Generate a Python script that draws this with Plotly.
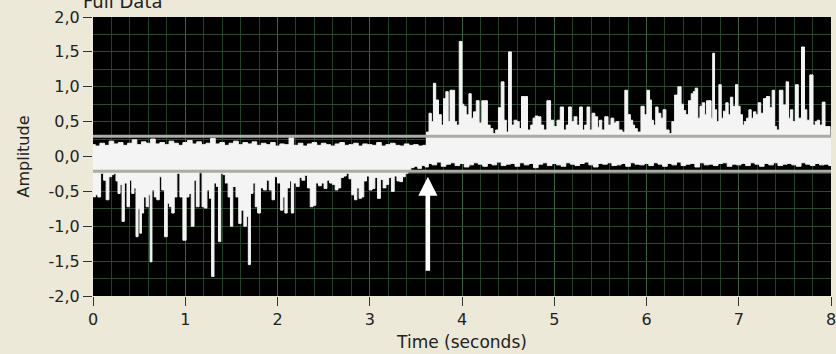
import plotly.graph_objects as go

# ---------------- data ----------------
# Segment 1 (0 .. 3.6 s): upper edge of the noise band, sampled every 0.05 s
TOP1_START, TOP1_STEP = 0.0, 0.05
top1_v = [0.17, 0.15, 0.19, 0.16, 0.22, 0.18, 0.20, 0.16, 0.19, 0.24, 0.17, 0.21, 0.19, 0.25, 0.18,
          0.20, 0.17, 0.22, 0.19, 0.16, 0.20, 0.23, 0.18, 0.21, 0.17, 0.19, 0.26, 0.18, 0.20, 0.16,
          0.19, 0.22, 0.17, 0.20, 0.18, 0.21, 0.16, 0.19, 0.17, 0.20, 0.15, 0.18, 0.17, 0.27, 0.16,
          0.19, 0.15, 0.18, 0.20, 0.16, 0.19, 0.17, 0.15, 0.18, 0.20, 0.16, 0.17, 0.19, 0.15, 0.18,
          0.17, 0.16, 0.20, 0.15, 0.17, 0.19, 0.16, 0.15, 0.18, 0.16, 0.17, 0.15, 0.16]

# Segment 1: lower envelope (negative excursions)
bot1_t = [0.00, 0.011, 0.04, 0.065, 0.10, 0.13, 0.155, 0.19, 0.215, 0.238, 0.26, 0.282, 0.305, 0.325,
          0.354, 0.383, 0.408, 0.433, 0.455, 0.477, 0.50, 0.516, 0.534, 0.563, 0.589, 0.61, 0.628,
          0.65, 0.679, 0.704, 0.733, 0.758, 0.794, 0.816, 0.841, 0.866, 0.895, 0.924, 0.96, 0.989,
          1.03, 1.05, 1.08, 1.11, 1.13, 1.17, 1.195, 1.22, 1.25, 1.275, 1.297, 1.326, 1.35, 1.37,
          1.40, 1.42, 1.45, 1.48, 1.50, 1.53, 1.57, 1.59, 1.62, 1.65, 1.675, 1.693, 1.72, 1.748,
          1.77, 1.80, 1.83, 1.867, 1.892, 1.928, 1.954, 1.98, 2.02, 2.047, 2.07,
          2.09, 2.12, 2.14, 2.16, 2.19, 2.22, 2.25, 2.28, 2.31, 2.34, 2.37, 2.40, 2.43, 2.46, 2.49,
          2.52, 2.55, 2.58, 2.61, 2.64, 2.67, 2.70, 2.73, 2.76, 2.79, 2.82, 2.85, 2.87, 2.90, 2.92,
          2.95, 2.98, 3.01, 3.04, 3.07, 3.10, 3.13, 3.16, 3.19, 3.22, 3.25, 3.28, 3.31, 3.34, 3.37,
          3.40, 3.43, 3.46, 3.50, 3.54, 3.58, 3.62]
bot1_v = [-0.45, -0.58, -0.55, -0.58, -0.24, -0.34, -0.62, -0.29, -0.26, -0.24, -0.35, -0.53, -0.40, -0.93,
          -0.38, -0.72, -0.34, -0.53, -0.45, -1.15, -0.75, -1.10, -0.81, -0.58, -0.72, -0.55, -1.51,
          -0.48, -0.58, -0.62, -0.29, -0.48, -1.15, -0.67, -0.72, -0.81, -0.58, -0.24, -0.58, -1.20,
          -0.58, -0.53, -1.00, -0.34, -0.72, -0.22, -0.72, -0.74, -0.48, -0.60, -1.72, -0.38, -0.43, -1.22,
          -0.24, -0.26, -0.38, -0.58, -1.00, -0.43, -0.58, -0.96, -0.77, -1.00, -0.86, -1.55, -0.53, -0.38,
          -0.72, -0.81, -0.45, -0.48, -0.34, -0.48, -0.62, -0.29, -0.38, -0.77, -0.58,
          -0.81, -0.45, -0.35, -0.81, -0.38, -0.43, -0.30, -0.34, -0.27, -0.45, -0.72, -0.70, -0.38, -0.42, -0.38,
          -0.46, -0.34, -0.38, -0.40, -0.48, -0.45, -0.30, -0.28, -0.24, -0.32, -0.55, -0.62, -0.45, -0.60, -0.58,
          -0.35, -0.28, -0.48, -0.46, -0.30, -0.60, -0.33, -0.45, -0.40, -0.30, -0.50, -0.28, -0.35, -0.36, -0.29,
          -0.24, -0.20, -0.16, -0.14, -0.17, -0.13, -0.15]

# Segment 2 (after the arrow): upper envelope (positive bursts)
top2_t = [3.63, 3.655, 3.68, 3.70, 3.73, 3.76, 3.79, 3.81, 3.84, 3.86, 3.88, 3.91, 3.93, 3.95, 3.99,
          4.01, 4.03, 4.06, 4.09, 4.11, 4.14, 4.17, 4.20, 4.23, 4.26, 4.29, 4.32, 4.35, 4.38, 4.41,
          4.44, 4.47, 4.49, 4.52, 4.55, 4.58, 4.61, 4.63, 4.66, 4.69, 4.73, 4.76, 4.78, 4.81, 4.84,
          4.87, 4.90, 4.94, 4.98, 5.01, 5.05, 5.08, 5.12, 5.14, 5.17, 5.20, 5.23, 5.26, 5.29, 5.32,
          5.34, 5.37, 5.40, 5.42, 5.46, 5.48, 5.50, 5.53, 5.565, 5.60, 5.63, 5.66, 5.68, 5.72, 5.75,
          5.78, 5.81, 5.84, 5.86, 5.88, 5.92, 5.96, 5.99, 6.02, 6.046, 6.06, 6.09, 6.11, 6.14, 6.17,
          6.19, 6.23, 6.26, 6.29, 6.32, 6.36, 6.39, 6.41, 6.44, 6.47, 6.50, 6.515, 6.54, 6.57, 6.59,
          6.62, 6.64, 6.66, 6.69, 6.71, 6.725, 6.75, 6.77, 6.80, 6.82, 6.85, 6.87, 6.90, 6.92, 6.95,
          6.98, 7.00, 7.03, 7.05, 7.07, 7.10, 7.12, 7.15, 7.17, 7.20, 7.22, 7.256, 7.28, 7.32, 7.35,
          7.374, 7.40, 7.42, 7.46, 7.497, 7.53, 7.55, 7.57, 7.60, 7.63, 7.66, 7.70, 7.725, 7.75, 7.79,
          7.82, 7.84, 7.86, 7.89, 7.92, 7.95, 7.98, 8.00]
top2_v = [0.35, 0.62, 0.50, 1.05, 0.81, 0.60, 0.45, 0.83, 0.93, 0.50, 0.95, 0.95, 0.50, 0.45, 1.65,
          0.75, 0.72, 0.60, 0.90, 0.55, 0.64, 0.80, 0.48, 0.80, 0.80, 0.45, 0.40, 0.33, 0.38, 0.70,
          1.07, 0.52, 0.35, 1.50, 0.45, 0.52, 0.50, 0.40, 0.86, 0.86, 0.38, 0.45, 0.55, 0.58, 0.57,
          0.45, 0.38, 0.80, 0.52, 0.43, 0.52, 0.71, 0.38, 0.45, 0.71, 0.50, 0.57, 0.45, 0.71, 0.38,
          0.45, 0.71, 0.38, 0.62, 0.57, 0.42, 0.52, 0.38, 0.57, 0.45, 0.55, 0.48, 0.50, 0.38, 0.35,
          0.95, 0.60, 0.52, 0.45, 0.40, 0.35, 0.72, 0.60, 0.95, 0.81, 0.52, 0.45, 0.71, 0.62, 0.55,
          0.67, 0.38, 0.33, 0.50, 0.88, 1.00, 0.75, 0.66, 0.60, 0.80, 0.90, 0.93, 0.98, 0.55, 0.72,
          0.77, 0.60, 0.80, 0.80, 0.55, 1.48, 0.67, 0.50, 1.03, 0.55, 0.65, 0.77, 0.60, 0.85, 0.72,
          1.03, 0.72, 0.60, 0.45, 0.50, 0.55, 0.67, 0.55, 0.64, 0.60, 0.77, 0.62, 0.83, 0.86, 0.70,
          0.95, 0.43, 0.38, 0.95, 0.74, 1.07, 0.55, 0.67, 0.50, 1.03, 0.55, 1.57, 0.67, 0.52, 1.17,
          0.45, 0.50, 0.52, 0.45, 0.78, 0.43, 0.43, 0.30]

# Segment 2: lower edge of the band, sampled every 0.05 s
BOT2_START, BOT2_STEP = 3.65, 0.05
bot2_v = [-0.10, -0.12, -0.08, -0.14, -0.11, -0.09, -0.13, -0.10, -0.15, -0.12, -0.09, -0.11, -0.14, -0.10,
          -0.12, -0.08, -0.13, -0.11, -0.10, -0.14, -0.09, -0.12, -0.10, -0.16, -0.11, -0.09, -0.13, -0.10,
          -0.12, -0.14, -0.09, -0.11, -0.13, -0.10, -0.08, -0.12, -0.15, -0.10, -0.11, -0.09, -0.13, -0.12,
          -0.10, -0.14, -0.09, -0.11, -0.12, -0.10, -0.13, -0.09, -0.11, -0.14, -0.10, -0.12, -0.08, -0.13,
          -0.11, -0.10, -0.15, -0.09, -0.12, -0.11, -0.13, -0.10, -0.09, -0.14, -0.11, -0.12, -0.10, -0.13,
          -0.09, -0.11, -0.14, -0.10, -0.12, -0.09, -0.13, -0.11, -0.10, -0.12, -0.14, -0.09, -0.11, -0.13,
          -0.10, -0.12, -0.11, -0.13]

thresholds = [0.29, -0.21]
x_range = [0, 8]
x_ticks = [0, 1, 2, 3, 4, 5, 6, 7, 8]
y_ticks = [2.0, 1.5, 1.0, 0.5, 0.0, -0.5, -1.0, -1.5, -2.0]
y_ticktext = ["2,0", "1,5", "1,0", "0,5", "0,0", "-0,5", "-1,0", "-1,5", "-2,0"]
arrow_t, arrow_tail, arrow_tip = 3.63, -1.66, -0.29

# ---------------- build ----------------
top_t = [TOP1_START + TOP1_STEP * i for i in range(len(top1_v))] + top2_t
top_v = top1_v + top2_v
bot_t = bot1_t + [BOT2_START + BOT2_STEP * i for i in range(len(bot2_v))]
bot_v = bot1_v + bot2_v

# one closed outline: upper envelope left->right, lower envelope right->left
sig_x = top_t + bot_t[::-1]
sig_y = top_v + bot_v[::-1]

FONT = "DejaVu Sans"
fig = go.Figure()
fig.add_trace(go.Scatter(x=sig_x, y=sig_y, mode="lines",
                         line=dict(color="#f4f4f4", width=1, shape="hvh"),
                         fill="toself", fillcolor="#f4f4f4", hoverinfo="skip"))
for th in thresholds:
    fig.add_trace(go.Scatter(x=x_range, y=[th, th], mode="lines",
                             line=dict(color="#a9ada5", width=3), hoverinfo="skip"))

fig.add_annotation(x=arrow_t, y=arrow_tip, ax=arrow_t, ay=arrow_tail,
                   xref="x", yref="y", axref="x", ayref="y", text="",
                   showarrow=True, arrowhead=2, arrowsize=0.85, arrowwidth=4.5,
                   arrowcolor="white")
fig.add_annotation(text="Full Data", xref="paper", yref="paper", x=0.04, y=1,
                   xanchor="center", yanchor="bottom", yshift=3, showarrow=False,
                   font=dict(family=FONT, size=18, color="#222"))

fig.update_layout(
    width=836, height=354,
    margin=dict(l=93, r=5, t=17, b=58),
    paper_bgcolor="#ece9d8", plot_bgcolor="black",
    showlegend=False,
    font=dict(family=FONT, size=16, color="#222"),
    xaxis=dict(range=x_range, tickvals=x_ticks, ticks="outside", ticklen=9,
               tickcolor="#333", showgrid=True, gridcolor="#3d6244", gridwidth=1,
               minor=dict(dtick=0.2, tick0=0, showgrid=True, gridcolor="#22402a", ticks=""),
               zeroline=False, showline=False, automargin=False, ticklabeloverflow="allow",
               title=dict(text="Time (seconds)", font=dict(size=17), standoff=7)),
    yaxis=dict(range=[-2, 2], tickvals=y_ticks, ticktext=y_ticktext, ticks="outside",
               ticklen=9, tickcolor="#333", showgrid=True, gridcolor="#2c4a33",
               minor=dict(dtick=0.25, tick0=0, showgrid=True, gridcolor="#2c4a33", ticks=""),
               zeroline=False, showline=False, automargin=False,
               title=dict(text="Amplitude", font=dict(size=16), standoff=14)),
)

fig.write_html("out.html",
               config={"displayModeBar": False},
               post_script="document.body.style.margin='0';"
                           "document.body.style.background='#ece9d8';"
                           "document.body.style.overflow='hidden';")
